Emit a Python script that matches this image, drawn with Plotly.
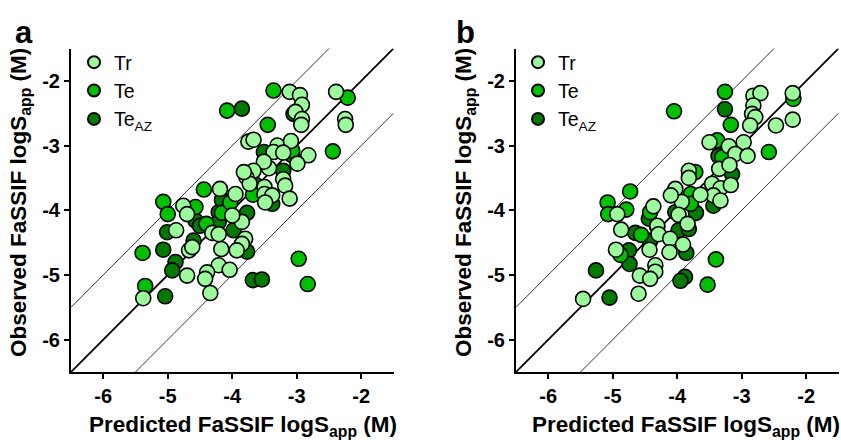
import plotly.graph_objects as go

# ---------------- data (predicted x, observed y), logS_app in M ----------------
# Panel a
a_tr_x = [-3.11, -2.95, -2.92, -3.02, -2.92, -2.93, -2.39, -2.25, -2.24, -3.75, -3.67, -3.30,
          -3.09, -3.36, -3.21, -2.82, -2.99, -3.43, -3.51, -3.21, -3.18, -3.67, -3.78, -3.73,
          -3.50, -3.50, -3.38, -3.49, -3.11, -3.85, -3.80, -3.85, -4.76, -4.70, -4.00, -4.31,
          -4.87, -4.67, -4.17, -3.93, -4.21, -4.04, -4.70, -4.39, -4.42, -5.38, -4.34, -4.19,
          -3.95, -3.82, -4.21, -4.62]
a_tr_y = [-2.17, -2.22, -2.37, -2.48, -2.59, -2.68, -2.17, -2.59, -2.68, -2.94, -2.91, -3.00,
          -2.93, -3.10, -3.11, -3.15, -3.28, -3.35, -3.25, -3.52, -3.62, -3.39, -3.49, -3.59,
          -3.64, -3.75, -3.77, -3.88, -3.82, -4.18, -4.44, -4.52, -3.93, -4.06, -4.08, -4.35,
          -4.31, -4.62, -4.60, -4.62, -4.85, -4.92, -5.01, -4.96, -5.06, -5.36, -5.28, -3.67,
          -3.75, -3.41, -4.37, -4.57]
a_te_x = [-3.36, -2.21, -4.08, -3.45, -3.07, -2.44, -3.68, -2.97, -2.83, -5.07, -5.00, -4.40,
          -4.16, -5.39, -5.35, -4.44, -4.57, -4.03]
a_te_y = [-2.15, -2.26, -2.46, -2.68, -3.08, -3.09, -3.76, -4.75, -5.14, -3.87, -4.06, -4.21,
          -4.04, -4.66, -5.17, -3.68, -3.95, -3.88]
a_az_x = [-3.85, -3.05, -3.51, -3.07, -3.21, -3.38, -3.77, -3.77, -3.68, -3.54, -4.57, -4.50,
          -4.21, -3.98, -5.01, -4.60, -5.07, -4.88, -4.93, -5.04, -4.16, -3.63, -4.21]
a_az_y = [-2.43, -2.51, -3.10, -3.15, -3.39, -3.90, -4.04, -4.64, -5.08, -5.07, -4.16, -4.24,
          -4.03, -4.31, -4.34, -4.47, -4.61, -4.80, -4.93, -5.33, -3.84, -3.61, -4.18]

# Panel b
b_tr_x = [-4.93, -4.37, -4.08, -4.03, -2.82, -2.71, -2.82, -2.84, -2.79, -2.87, -2.21, -2.47,
          -2.21, -3.50, -2.97, -3.20, -3.10, -2.91, -3.35, -3.19, -3.82, -3.82, -3.46, -3.33,
          -3.17, -3.44, -3.33, -3.64, -3.93, -3.98, -4.87, -4.95, -4.58, -4.34, -4.34, -4.31,
          -4.29, -4.11, -4.43, -4.12, -4.42, -5.46, -4.60, -3.84, -3.91, -4.10]
b_tr_y = [-4.06, -3.94, -3.76, -3.67, -2.23, -2.19, -2.38, -2.51, -2.56, -2.69, -2.19, -2.69,
          -2.60, -2.95, -2.95, -3.01, -3.13, -3.16, -3.36, -3.30, -3.39, -3.50, -3.59, -3.66,
          -3.61, -3.77, -3.85, -3.76, -3.87, -4.07, -4.30, -4.61, -5.01, -4.85, -4.95, -4.24,
          -4.37, -4.44, -4.61, -4.65, -5.06, -5.37, -5.29, -4.21, -4.53, -3.77]
b_te_x = [-4.05, -4.73, -5.08, -4.79, -5.07, -4.42, -3.26, -3.17, -2.20, -2.58, -3.38, -3.30,
          -3.72, -3.79, -3.79, -3.40, -3.53, -4.88, -4.56, -4.31]
b_te_y = [-2.47, -3.71, -3.88, -3.99, -4.06, -4.03, -2.17, -2.68, -2.28, -3.10, -2.92, -3.18,
          -3.41, -3.75, -3.90, -4.76, -5.15, -4.69, -4.38, -4.26]
b_az_x = [-3.26, -3.36, -3.15, -3.44, -3.71, -4.03, -4.44, -4.42, -3.98, -3.82, -3.86, -4.65,
          -4.75, -4.74, -3.88, -3.95, -5.26, -5.05]
b_az_y = [-2.44, -3.16, -3.44, -3.93, -4.04, -4.03, -4.13, -4.47, -4.31, -4.29, -4.66, -4.35,
          -4.62, -4.83, -5.03, -5.09, -4.93, -5.35]

axis_range = [-6.5, -1.5]
tick_vals = [-6, -5, -4, -3, -2]
tick_text = ["-6", "-5", "-4", "-3", "-2"]
diag_offsets = [0, 1, -1]
diag_widths = [1.8, 0.8, 0.8]

series_names = ["Tr", "Te", "Te<sub>AZ</sub>"]
series_colors = ["#9cfa9c", "#00c000", "#007a00"]

FONT = "Liberation Sans, Arial, sans-serif"
W, H = 841, 440

fig = go.Figure()

panels = [
    ("x", "y", "legend", [a_tr_x, a_te_x, a_az_x], [a_tr_y, a_te_y, a_az_y]),
    ("x2", "y2", "legend2", [b_tr_x, b_te_x, b_az_x], [b_tr_y, b_te_y, b_az_y]),
]

for xa, ya, lg, xs, ys in panels:
    for off, w in zip(diag_offsets, diag_widths):
        fig.add_trace(go.Scatter(
            x=axis_range, y=[axis_range[0] + off, axis_range[1] + off],
            mode="lines", line=dict(color="black", width=w),
            xaxis=xa, yaxis=ya, showlegend=False, hoverinfo="skip"))
    # draw dark first so light points lie on top
    for i in [2, 1, 0]:
        fig.add_trace(go.Scatter(
            x=xs[i], y=ys[i], mode="markers", name=series_names[i],
            marker=dict(size=15, color=series_colors[i],
                        line=dict(color="black", width=1.6)),
            xaxis=xa, yaxis=ya, legend=lg, legendrank=i + 1))

def px_x(p):
    return p / W

def px_y(p):
    return 1 - p / H

x_dom_a = [px_x(71), px_x(393.5)]
x_dom_b = [px_x(516), px_x(838.5)]
y_dom = [px_y(372), px_y(48.5)]

axis_common = dict(
    range=axis_range, tickvals=tick_vals, ticktext=tick_text,
    showline=True, linecolor="black", linewidth=2,
    ticks="outside", ticklen=5, tickwidth=1.5, tickcolor="black",
    showgrid=False, zeroline=False,
    tickfont=dict(family=FONT, size=20, color="black", weight="bold"),
)

legend_common = dict(
    font=dict(family=FONT, size=19.5, color="black"),
    bgcolor="rgba(0,0,0,0)", borderwidth=0,
    itemsizing="constant", tracegroupgap=0,
    xanchor="left", yanchor="top",
)

fig.update_layout(
    width=W, height=H,
    margin=dict(l=0, r=0, t=0, b=0),
    plot_bgcolor="white", paper_bgcolor="white",
    font=dict(family=FONT, color="black"),
    xaxis=dict(domain=x_dom_a, anchor="y", **axis_common),
    yaxis=dict(domain=y_dom, anchor="x", **axis_common),
    xaxis2=dict(domain=x_dom_b, anchor="y2", **axis_common),
    yaxis2=dict(domain=y_dom, anchor="x2", **axis_common),
    legend=dict(x=px_x(74), y=px_y(43), **legend_common),
    legend2=dict(x=px_x(518), y=px_y(43), **legend_common),
)

title_font = dict(family=FONT, size=22.5, color="black")
xt = "<b>Predicted FaSSIF logS<sub>app</sub> (M)</b>"
yt = "<b>Observed FaSSIF logS<sub>app</sub> (M)</b>"
for cx in [243, 686]:
    fig.add_annotation(text=xt, x=px_x(cx), y=px_y(426), xref="paper", yref="paper",
                       showarrow=False, font=title_font, xanchor="center", yanchor="middle")
for cx in [20, 465]:
    fig.add_annotation(text=yt, x=px_x(cx), y=px_y(203), xref="paper", yref="paper",
                       showarrow=False, font=title_font, textangle=-90,
                       xanchor="center", yanchor="middle")
for lbl, cx in [("a", 24), ("b", 466)]:
    fig.add_annotation(text="<b>" + lbl + "</b>", x=px_x(cx), y=px_y(32), xref="paper",
                       yref="paper", showarrow=False,
                       font=dict(family=FONT, size=31, color="black"),
                       xanchor="center", yanchor="middle")

fig.write_html("out.html", config={"displayModeBar": False},
               post_script="document.body.style.margin='0';")
